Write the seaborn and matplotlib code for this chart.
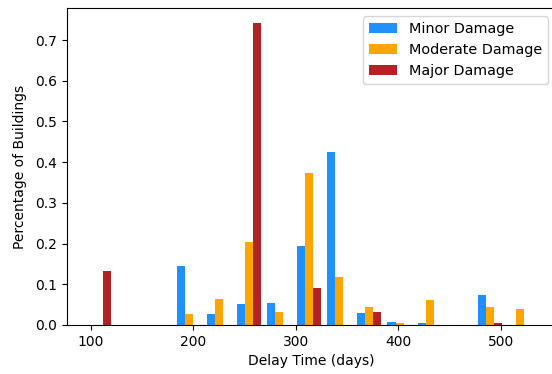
import numpy as np
import pandas as pd
import seaborn as sns
import matplotlib
matplotlib.use("Agg")
import matplotlib.pyplot as plt


# histogram bins (days)
bin_lo = 93.8
bin_hi = 533.1
n_bins = 15

damage_levels = ["Minor Damage", "Moderate Damage", "Major Damage"]
damage_colors = ["#1E90FF", "#FFA500", "#B22222"]

# fraction of buildings per bin
minor = [0, 0, 0, 0.145, 0.026, 0.051, 0.055, 0.194, 0.426, 0.029, 0.008, 0.004, 0, 0.073, 0]
moderate = [0, 0, 0, 0.026, 0.065, 0.204, 0.033, 0.373, 0.119, 0.044, 0.005, 0.061, 0, 0.044, 0.040]
major = [0.133, 0, 0, 0, 0, 0.741, 0, 0.091, 0, 0.033, 0, 0, 0, 0.004, 0]


def build_df():
    edges = np.linspace(bin_lo, bin_hi, n_bins + 1)
    centers = (edges[:-1] + edges[1:]) / 2
    rows = {"delay": [], "frac": [], "damage": []}
    for level, vals in zip(damage_levels, [minor, moderate, major]):
        for c, v in zip(centers, vals):
            rows["delay"].append(c)
            rows["frac"].append(v)
            rows["damage"].append(level)
    return pd.DataFrame(rows), edges


def plot(df, edges):
    fig = plt.figure(figsize=(5.52, 3.74), dpi=100)
    # the original screenshot cuts the right spine off, so the axes run past the edge
    ax = fig.add_axes([66.7 / 552, 49 / 374, 489.3 / 552, 316.7 / 374])

    sns.histplot(
        data=df, x="delay", weights="frac", hue="damage",
        hue_order=damage_levels, palette=damage_colors,
        bins=list(edges), multiple="dodge", shrink=0.8,
        alpha=1, linewidth=0, ax=ax,
    )

    ax.set_xlim(76.6, 554.0)
    ax.set_xticks([100, 200, 300, 400, 500])
    ax.set_xlabel("Delay Time (days)")
    ax.set_ylabel("Percentage of Buildings", labelpad=6)
    sns.move_legend(ax, "upper right", title=None, fontsize=10.4, borderaxespad=0.55)

    fig.savefig("out.png", dpi=100)
    plt.close(fig)


if __name__ == "__main__":
    df, edges = build_df()
    plot(df, edges)
